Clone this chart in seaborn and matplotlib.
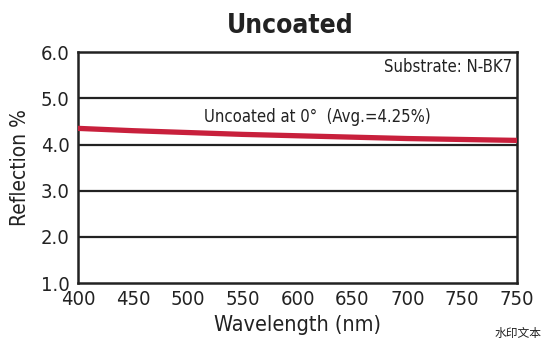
import matplotlib
matplotlib.use("Agg")
import matplotlib.pyplot as plt
import seaborn as sns
import pandas as pd

wavelength = [400, 450, 500, 550, 600, 650, 700, 750, 800]
reflection = [4.35, 4.30, 4.26, 4.22, 4.19, 4.16, 4.13, 4.11, 4.09]
x_ticks = [400, 450, 500, 550, 600, 650, 700, 750, 800]
x_tick_labels = ["400", "450", "500", "550", "600", "650", "700", "750", "750"]
y_ticks = [1.0, 2.0, 3.0, 4.0, 5.0, 6.0]
y_tick_labels = ["1.0", "2.0", "3.0", "4.0", "5.0", "6.0"]

sns.set_theme(style="white")
FONT = ["DejaVu Sans"]
plt.rcParams["font.family"] = FONT
plt.rcParams["font.stretch"] = "condensed"

df = pd.DataFrame({"Wavelength": wavelength, "Reflection": reflection})

fig = plt.figure(figsize=(5.5, 3.5), dpi=100)
ax = fig.add_axes([0.142, 0.191, 0.798, 0.66])

for y in [2.0, 3.0, 4.0, 5.0]:
    ax.axhline(y, color="#222222", lw=1.6, zorder=1)

sns.lineplot(data=df, x="Wavelength", y="Reflection", ax=ax, color="#c8203c", lw=3.8, zorder=3)

ax.set_xlim(400, 800)
ax.set_ylim(1.0, 6.0)
ax.set_xticks(x_ticks)
ax.set_xticklabels(x_tick_labels, fontsize=14.5, color="#222222")
ax.set_yticks(y_ticks)
ax.set_yticklabels(y_tick_labels, fontsize=14.5, color="#222222")
ax.tick_params(axis="x", length=0, pad=5)
ax.tick_params(axis="y", length=0, pad=6)
ax.set_xlabel("Wavelength (nm)", fontsize=15.5, color="#222222", labelpad=4)
ax.set_ylabel("Reflection %", fontsize=15, color="#222222", labelpad=8)
for s in ax.spines.values():
    s.set_color("#222222")
    s.set_linewidth(1.8)

fig.text(0.528, 0.925, "Uncoated", fontsize=19, fontweight="bold", ha="center", va="center", color="#222222")
ax.text(0.99, 0.935, "Substrate: N-BK7", transform=ax.transAxes, fontsize=12, ha="right", va="center", color="#222222")
ax.text(0.545, 0.719, "Uncoated at 0°  (Avg.=4.25%)", transform=ax.transAxes, fontsize=12, ha="center", va="center", color="#222222")
fig.text(0.985, 0.047, "水印文本", fontsize=8.5, ha="right", va="center", color="#222222",
         family=["Noto Sans CJK SC", "DejaVu Sans"])

fig.savefig("out.png", dpi=100)
